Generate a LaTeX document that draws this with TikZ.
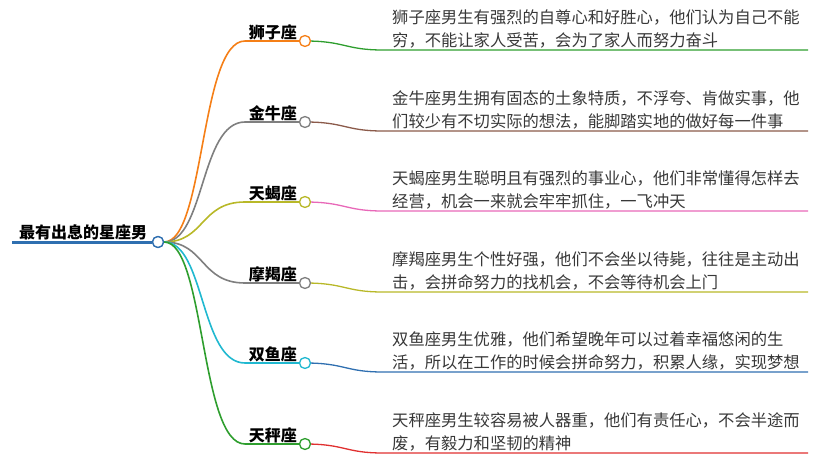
\documentclass[tikz,border=0pt]{standalone}
\usepackage{fontspec}
\setmainfont{Noto Sans CJK SC}
\begin{document}
\begin{tikzpicture}[x=1pt,y=-1pt,
  dot/.style={circle,draw,fill=white,line width=1.3pt,minimum size=11pt,inner sep=0pt},
  lab/.style={font=\fontsize{16}{18}\selectfont\bfseries,anchor=south east,inner sep=1pt},
  desc/.style={font=\fontsize{16.3}{22.5}\selectfont,text=black!78,anchor=south west,align=left,inner sep=0pt}]
\useasboundingbox (0,0) rectangle (820,468);
\definecolor{cOr}{HTML}{F57F17}\definecolor{cGr}{HTML}{2E9E2E}
\definecolor{cGy}{HTML}{7F7F7F}\definecolor{cBr}{HTML}{8B5A4A}
\definecolor{cYg}{HTML}{B8B828}\definecolor{cPk}{HTML}{E868B8}
\definecolor{cCy}{HTML}{20B8D0}\definecolor{cBl}{HTML}{2F6FB0}
\definecolor{cRd}{HTML}{E03030}\definecolor{cRoot}{HTML}{2F6FB0}
\node[font=\fontsize{16}{18}\selectfont\bfseries,anchor=south west,inner sep=1pt] (root) at (18,241) {最有出息的星座男};
\coordinate (r0) at (12,242);
\draw[cRoot,line width=3pt] (r0) -- (152,242);
\node[dot,draw=cRoot] (rc) at (158,242) {};
\foreach \y/\t/\bc/\lc/\da/\db [count=\i] in {
 41/狮子座/cOr/cGr/狮子座男生有强烈的自尊心和好胜心，他们认为自己不能/穷，不能让家人受苦，会为了家人而努力奋斗,
 122/金牛座/cGy/cBr/金牛座男生拥有固态的土象特质，不浮夸、肯做实事，他/们较少有不切实际的想法，能脚踏实地的做好每一件事,
 202/天蝎座/cYg/cPk/天蝎座男生聪明且有强烈的事业心，他们非常懂得怎样去/经营，机会一来就会牢牢抓住，一飞冲天,
 283/摩羯座/cGy/cYg/摩羯座男生个性好强，他们不会坐以待毙，往往是主动出/击，会拼命努力的找机会，不会等待机会上门,
 363/双鱼座/cCy/cBl/双鱼座男生优雅，他们希望晚年可以过着幸福悠闲的生/活，所以在工作的时候会拼命努力，积累人缘，实现梦想,
 444/天秤座/cGr/cRd/天秤座男生较容易被人器重，他们有责任心，不会半途而/废，有毅力和坚韧的精神}{
  \coordinate (c\i) at (305,\y);
  \coordinate (e\i) at (808,\y+9);
  \node[lab] (l\i) at (298,\y) {\t};
  \node[desc] (d\i) at (392,\y+7) {\da\\\db};
  \draw[\bc,line width=1.6pt] (rc.east) .. controls (205,242) and (200,\y) .. (245,\y) -- (c\i);
  \draw[\lc,line width=1.3pt] (c\i) .. controls (345,\y) and (345,\y+9) .. (383,\y+9) -- (e\i);
  \node[dot,draw=\bc] (k\i) at (c\i) {};
}
\node[dot,draw=cRoot] at (rc) {};
\end{tikzpicture}
\end{document}
